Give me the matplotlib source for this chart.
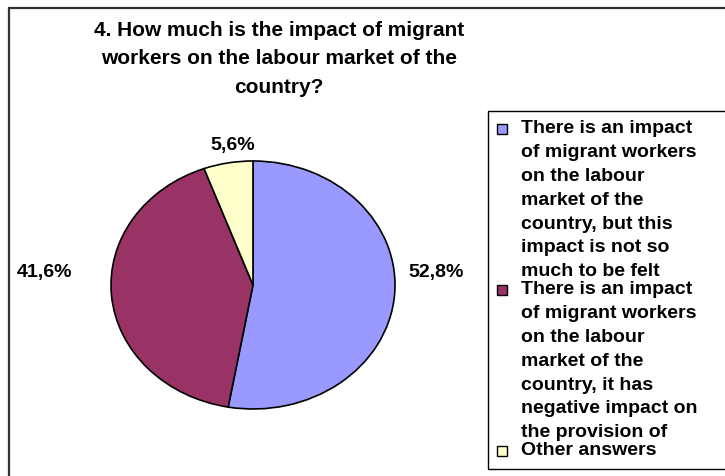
import matplotlib.pyplot as plt
from matplotlib.patches import Rectangle

# data
shares = [52.8, 41.6, 5.6]
pct_labels = ["52,8%", "41,6%", "5,6%"]
legend_labels = [
    "There is an impact\nof migrant workers\non the labour\nmarket of the\ncountry, but this\nimpact is not so\nmuch to be felt",
    "There is an impact\nof migrant workers\non the labour\nmarket of the\ncountry, it has\nnegative impact on\nthe provision of",
    "Other answers",
]
colors = ["#9999FF", "#993366", "#FFFFCC"]
title = "4. How much is the impact of migrant\nworkers on the labour market of the\ncountry?"

plt.rcParams['font.family'] = ['Liberation Sans', 'DejaVu Sans']
plt.rcParams['font.weight'] = 'bold'

W, H = 725, 477
fig = plt.figure(figsize=(W / 100, H / 100), dpi=100)

# outer chart frame
fig.patches.append(Rectangle((8.5 / W, -0.1), 1.2, 1.1 - 8.5 / H, transform=fig.transFigure,
                             fill=False, edgecolor='#333333', linewidth=1.6))

# pie axes: ellipse centre (253, 286), radii 142 x 124 px
ax = fig.add_axes([111 / W, (H - 410) / H, 284 / W, 248 / H])
wedges, texts = ax.pie(shares, colors=colors, startangle=90, counterclock=False,
                       labels=pct_labels, labeldistance=1.1,
                       wedgeprops=dict(edgecolor='black', linewidth=1.2),
                       textprops=dict(fontsize=14, fontweight='bold'))
ax.set_aspect('auto')
ax.set_xlim(-1, 1)
ax.set_ylim(-1, 1)
ax.axis('off')

# Excel-style label placement
label_pos = [(1.29, 0.105), (-1.465, 0.105), (-0.14, 1.137)]
for t, (x, y) in zip(texts, label_pos):
    t.set_position((x, y))
    t.set_ha('center')
    t.set_va('center')

fig.text(279 / W, 1 - 21 / H, title, ha='center', va='top', fontsize=15,
         fontweight='bold', linespacing=1.62)

# legend box (drawn by hand to get the Excel look)
fig.patches.append(Rectangle((487.5 / W, (H - 470) / H), 0.5, (470 - 112) / H,
                             transform=fig.transFigure, fill=False,
                             edgecolor='black', linewidth=1.0))
entry_tops = [120, 281, 442]   # pixel y of each entry's first line top
for w, lab, top in zip(wedges, legend_labels, entry_tops):
    fig.patches.append(Rectangle((497 / W, 1 - (top + 15) / H), 10 / W, 10 / H,
                                 transform=fig.transFigure, facecolor=w.get_facecolor(),
                                 edgecolor='black', linewidth=1.0))
    fig.text(521 / W, 1 - top / H, lab, ha='left', va='top', fontsize=14,
             fontweight='bold', linespacing=1.53)

fig.savefig("out.png", dpi=100)
